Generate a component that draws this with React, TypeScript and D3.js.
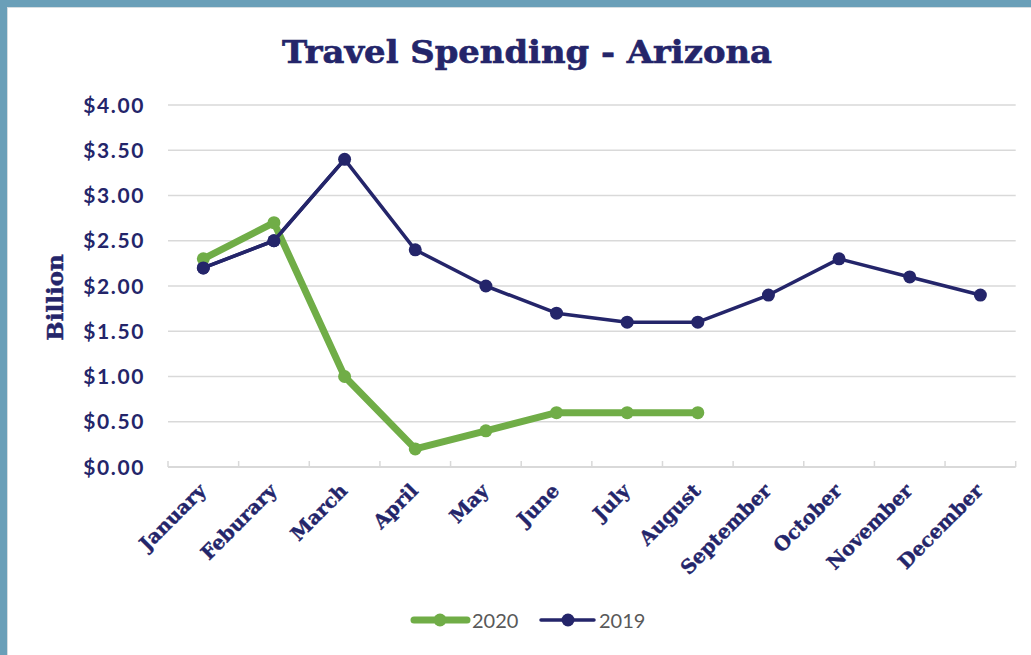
import React from "react";
import * as d3 from "d3";

const months = ["January","Feburary","March","April","May","June","July","August","September","October","November","December"];
const values2019 = [2.2, 2.5, 3.4, 2.4, 2.0, 1.7, 1.6, 1.6, 1.9, 2.3, 2.1, 1.9];
const values2020 = [2.3, 2.7, 1.0, 0.2, 0.4, 0.6, 0.6, 0.6];
const yTicks = [0, 0.5, 1, 1.5, 2, 2.5, 3, 3.5, 4];

const W = 1031, H = 655;
const NAVY = "#24256a";
const GREEN = "#70ad47";
const GRID = "#d9d9d9";
const SLAB = "'DejaVu Serif', 'Liberation Serif', serif";

export default function App() {
  const x = d3.scaleBand<string>().domain(months).range([168, 1015.7]);
  const y = d3.scaleLinear().domain([0, 4]).range([467, 105]);
  const cx = (m: string) => (x(m) as number) + x.bandwidth() / 2;
  const line = d3.line<number>().x((_, i) => cx(months[i])).y(d => y(d));
  const fmt = d3.format("$.2f");

  return (
    <svg width={W} height={H} style={{ position: "absolute", left: 0, top: 0, background: "#fff" }}>
      <rect x={0} y={0} width={W} height={H} fill="#fff" />
      <rect x={0} y={0} width={W} height={7} fill="#6a9fb8" />
      <rect x={0} y={0} width={7} height={H} fill="#6a9fb8" />
      <line x1={7} x2={W} y1={7.5} y2={7.5} stroke="#d5dde1" strokeWidth={1} />
      <line x1={7.5} x2={7.5} y1={7} y2={H} stroke="#d5dde1" strokeWidth={1} />

      <text x={527} y={63} textAnchor="middle" fontFamily={SLAB} fontWeight="bold" fontSize={31} fill={NAVY} stroke={NAVY} strokeWidth={0.6} textLength={490} lengthAdjust="spacingAndGlyphs">Travel Spending - Arizona</text>

      {yTicks.filter(t => t > 0).map(t => (
        <line key={t} x1={168} x2={1015.7} y1={y(t)} y2={y(t)} stroke={GRID} strokeWidth={1.5} />
      ))}
      <line x1={168} x2={1015.7} y1={y(0)} y2={y(0)} stroke={GRID} strokeWidth={2} />
      {months.map(m => (x(m) as number)).concat([1015.7]).map((tx, i) => (
        <line key={i} x1={tx} x2={tx} y1={y(0)} y2={y(0) - 6} stroke={GRID} strokeWidth={1.5} />
      ))}

      {yTicks.map(t => (
        <text key={t} x={145} y={y(t) + 7.5} textAnchor="end" fontFamily="Lato" fontWeight="bold" fontSize={21} letterSpacing={1.6} fill={NAVY}>{fmt(t)}</text>
      ))}

      <text transform={`translate(63,${297.5}) rotate(-90)`} textAnchor="middle" fontFamily={SLAB} fontWeight="bold" fontSize={23} fill={NAVY} stroke={NAVY} strokeWidth={0.4}>Billion</text>

      {months.map(m => (
        <text key={m} transform={`translate(${cx(m) + 4},${492}) rotate(-45)`} textAnchor="end" fontFamily={SLAB} fontWeight="bold" fontSize={19.5} fill={NAVY} stroke={NAVY} strokeWidth={0.4}>{m}</text>
      ))}

      <path d={line(values2019) || ""} fill="none" stroke={NAVY} strokeWidth={3.5} strokeLinejoin="round" />
      {values2019.map((v, i) => (
        <circle key={i} cx={cx(months[i])} cy={y(v)} r={6.5} fill={NAVY} />
      ))}

      <path d={line(values2020) || ""} fill="none" stroke={GREEN} strokeWidth={7} strokeLinejoin="round" strokeLinecap="round" />
      {values2020.map((v, i) => (
        <circle key={i} cx={cx(months[i])} cy={y(v)} r={6.5} fill={GREEN} />
      ))}
      <path d={line(values2019.slice(0, 3)) || ""} fill="none" stroke={NAVY} strokeWidth={3.5} strokeLinejoin="round" />
      {values2019.slice(0, 2).map((v, i) => (
        <circle key={"r" + i} cx={cx(months[i])} cy={y(v)} r={6.5} fill={NAVY} />
      ))}

      <g>
        <line x1={414} x2={467} y1={620} y2={620} stroke={GREEN} strokeWidth={7} strokeLinecap="round" />
        <circle cx={440} cy={620} r={6.5} fill={GREEN} />
        <text x={472} y={627.5} fontFamily="Lato" fontSize={20} fill="#595959">2020</text>
        <line x1={541} x2={594} y1={620} y2={620} stroke={NAVY} strokeWidth={3.5} strokeLinecap="round" />
        <circle cx={568} cy={620} r={6.5} fill={NAVY} />
        <text x={599} y={627.5} fontFamily="Lato" fontSize={20} fill="#595959">2019</text>
      </g>
    </svg>
  );
}
